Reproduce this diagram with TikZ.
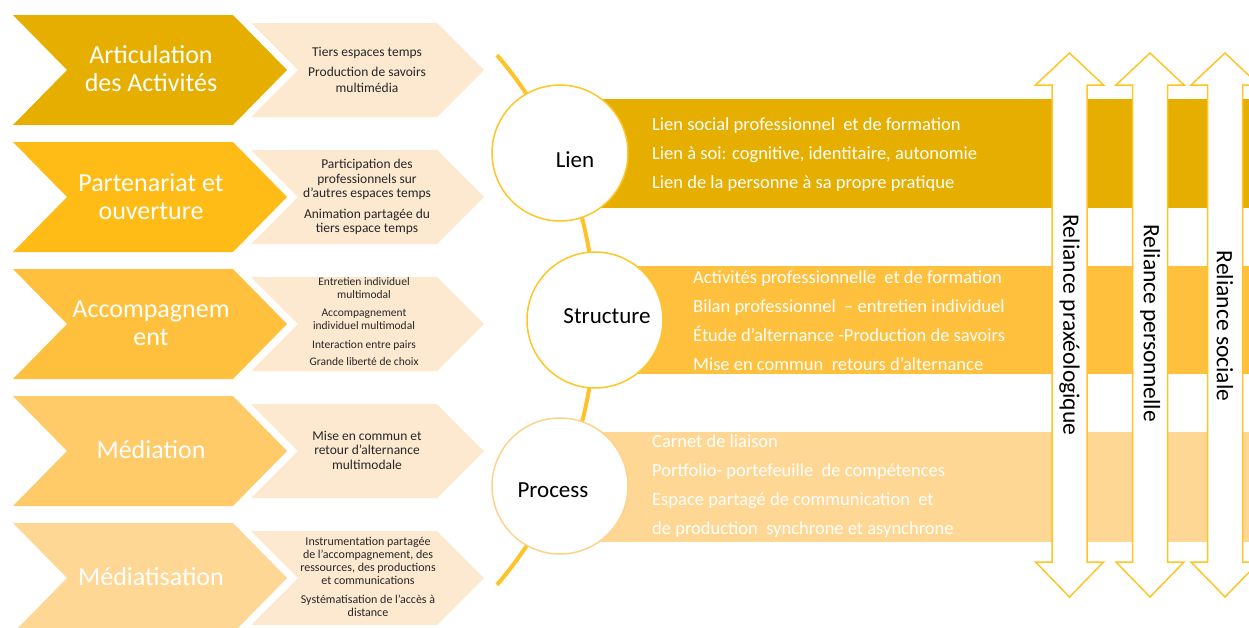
\documentclass[tikz,border=0pt]{standalone}
\usepackage{fontspec}
\setmainfont{Carlito}
\definecolor{c1}{HTML}{E6AF00}
\definecolor{c2}{HTML}{FFBC16}
\definecolor{c3}{HTML}{FFC13D}
\definecolor{c4}{HTML}{FFCA68}
\definecolor{c5}{HTML}{FFD794}
\definecolor{lightc}{HTML}{FDE9D0}
\definecolor{ringgold}{HTML}{FFC526}
\definecolor{palering}{HTML}{FFD28C}
\definecolor{arcgold}{HTML}{FFC328}
\definecolor{txtgray}{HTML}{262626}
\begin{document}
\begin{tikzpicture}[x=1pt,y=-1pt,
  chevtext/.style={text=white, align=center, font=\fontsize{26}{28}\selectfont},
  lighttext/.style={text=txtgray, align=center},
  bartext/.style={text=white, align=left, anchor=west, inner sep=0pt, font=\fontsize{18.5}{29}\selectfont},
  ring/.style={circle, fill=white, draw=ringgold, line width=1.5pt, minimum size=136pt, inner sep=0pt},
  ringlabel/.style={text=black, font=\fontsize{23}{26}\selectfont},
  relarrow/.style={fill=white, draw=ringgold, line width=1.5pt, line join=miter},
  reltext/.style={rotate=-90, font=\fontsize{23.5}{26}\selectfont, text=black}]
\useasboundingbox (0,0) rectangle (1249,627);
\clip (0,0) rectangle (1249,627);
% chevrons
\foreach \yy/\cc in {15/c1,142/c2,269/c3,396/c4,523/c5}{
  \fill[\cc] (13,\yy) -- ++(220,0) -- ++(54,55) -- ++(-54,55) -- ++(-220,0) -- ++(54,-55) -- cycle;
  \fill[lightc] (251,\yy+8) -- ++(186,0) -- ++(47,47) -- ++(-47,47) -- ++(-186,0) -- ++(47,-47) -- cycle;
}
\node[chevtext] (t1) at (151,69) {Articulation\\des Activités};
\node[chevtext] (t2) at (151,197) {Partenariat et\\ouverture};
\node[chevtext] (t3) at (151,323) {Accompagnem\\ent};
\node[chevtext] (t4) at (151,450) {Médiation};
\node[chevtext] (t5) at (151,577) {Médiatisation};
\node[lighttext, font=\fontsize{13.5}{16}\selectfont] (s1) at (367,70) {Tiers espaces temps\\[4pt]Production de savoirs\\multimédia};
\node[lighttext, font=\fontsize{13.5}{14.5}\selectfont] (s2) at (367,197) {Participation des\\professionnels sur\\d’autres espaces temps\\[6pt]Animation partagée du\\tiers espace temps};
\node[lighttext, font=\fontsize{11.5}{13}\selectfont] (s3) at (364,322) {Entretien individuel\\multimodal\\[5pt]Accompagnement\\individuel multimodal\\[6pt]Interaction entre pairs\\[4pt]Grande liberté de choix};
\node[lighttext, font=\fontsize{13.5}{14.5}\selectfont] (s4) at (367,450) {Mise en commun et\\retour d’alternance\\multimodale};
\node[lighttext, font=\fontsize{12}{13}\selectfont] (s5) at (368,577) {Instrumentation partagée\\de l’accompagnement, des\\ressources, des productions\\et communications\\[6pt]Systématisation de l’accès à\\distance};
% bars
\fill[c1] (560,99) rectangle (1249,208);
\fill[c3] (595,266) rectangle (1249,374);
\fill[c5] (560,432) rectangle (1249,542);
% arc
\coordinate (arcC) at (188,320);
\draw[arcgold, line width=4pt] (arcC) ++(-40.6:407) arc[start angle=-40.6, end angle=40.6, radius=407];
% circles
\node[ring] (lien) at (560,153) {};
\node[ring] (structure) at (595,320) {};
\node[ring, draw=palering] (process) at (560,486) {};
\node[ringlabel] (lienL) at (575,160) {Lien};
\node[ringlabel] (structureL) at (607,316) {Structure};
\node[ringlabel] (processL) at (553,490) {Process};
% bar texts
\node[bartext] (b1) at (652,155) {Lien social professionnel\ \ et de formation\\Lien à soi: cognitive, identitaire, autonomie\\Lien de la personne à sa propre pratique};
\node[bartext] (b2) at (693,320.5) {Activités professionnelle\ \ et de formation\\Bilan professionnel \ – entretien individuel\\Étude d’alternance -Production de savoirs\\Mise en commun\ \ retours d’alternance};
\node[bartext] (b3) at (652,486.5) {Carnet de liaison\\Portfolio- portefeuille\ \ de compétences\\Espace partagé de communication\ \ et\\de production\ \ synchrone et asynchrone};
% double arrows
\foreach \cx in {1069.5,1150,1225}{
  \draw[relarrow] (\cx,53) -- (\cx+34,85) -- (\cx+17.5,85) -- (\cx+17.5,562) -- (\cx+34,562) -- (\cx,597) -- (\cx-34,562) -- (\cx-17.5,562) -- (\cx-17.5,85) -- (\cx-34,85) -- cycle;
}
\node[reltext] (r1) at (1069.5,325) {Reliance praxéologique};
\node[reltext] (r2) at (1150,323) {Reliance personnelle};
\node[reltext] (r3) at (1225,326) {Reliance sociale};
\end{tikzpicture}
\end{document}
